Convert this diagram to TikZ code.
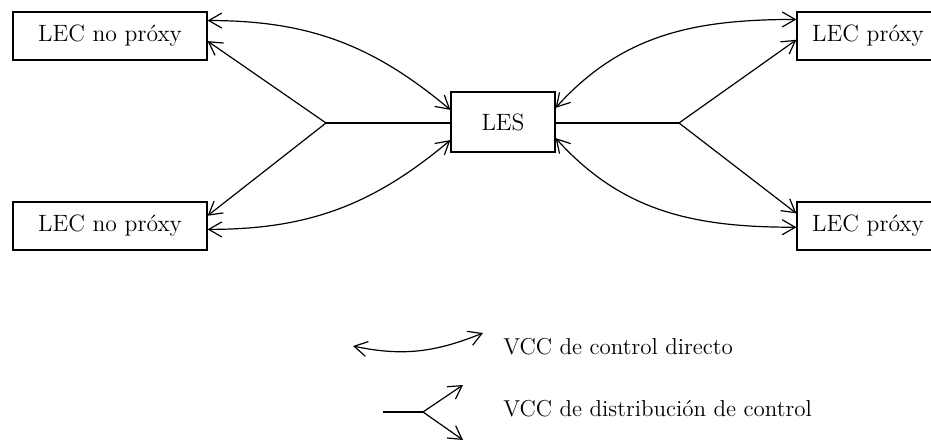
\documentclass[tikz,border=0pt]{standalone}
\usepackage{amsmath}
\usepackage{fontspec}
\usepackage{tikz}
\usetikzlibrary{arrows.meta,positioning}

\begin{document}
\begin{tikzpicture}[x=0.5pt,y=0.5pt,  %one unit is one pixel of the layout
		lec/.style={rectangle,draw=black,line width=0.6pt,inner sep=0mm,minimum width=97pt,minimum height=24pt,font=\fontsize{11.8}{13}\selectfont},
		lecp/.style={lec,minimum width=71pt},
		les/.style={lec,minimum width=52pt,minimum height=30pt},
		legtext/.style={inner sep=0mm,anchor=base west,font=\fontsize{11.5}{13}\selectfont},
		dc/.style={line width=0.6pt,{Straight Barb[length=6.5pt,width=7.5pt]}-{Straight Barb[length=6.5pt,width=7.5pt]}},
		ds/.style={line width=0.6pt,-{Straight Barb[length=6.5pt,width=7.5pt]}},
		trunk/.style={line width=0.6pt}
	]
		\useasboundingbox (0,0) rectangle (931,-442);

		\node[les] (les) at (503,-122) {LES};
		\node[lec] (nlt) at (110,-36) {LEC no próxy};
		\node[lec] (nlb) at (110,-226) {LEC no próxy};
		\node[lecp] (nrt) at (868,-36) {LEC próxy};
		\node[lecp] (nrb) at (868,-226) {LEC próxy};
		\coordinate (bl) at (326,-123);
		\coordinate (br) at (679,-123);

		% control directo
		\draw[dc] (nlt.9) to[out=0,in=140] (les.167);
		\draw[dc] (nlb.-2) to[out=0,in=-140] (les.-161);
		\draw[dc] (les.15) to[out=48,in=180] (nrt.167);
		\draw[dc] (les.-17) to[out=-48,in=180] (nrb.-179);

		% distribucion de control
		\draw[trunk] (les.west |- bl) -- (bl);
		\draw[ds] (bl) -- (nlt.-3);
		\draw[ds] (bl) -- (nlb.6.5);
		\draw[trunk] (les.east |- br) -- (br);
		\draw[ds] (br) -- (nrt.183);
		\draw[ds] (br) -- (nrb.170);

		% leyenda
		\coordinate (lga) at (353,-346);
		\coordinate (lgb) at (483,-333);
		\draw[dc] (lga) to[out=-12,in=-158] (lgb);
		\node[legtext] (lgt1) at (503,-355) {VCC de control directo};
		\coordinate (lgc) at (383,-412);
		\coordinate (lgd) at (423,-412);
		\coordinate (lge) at (463,-385);
		\coordinate (lgf) at (463,-440);
		\draw[trunk] (lgc) -- (lgd);
		\draw[ds] (lgd) -- (lge);
		\draw[ds] (lgd) -- (lgf);
		\node[legtext] (lgt2) at (503,-417) {VCC de distribución de control};
\end{tikzpicture}
\end{document}
